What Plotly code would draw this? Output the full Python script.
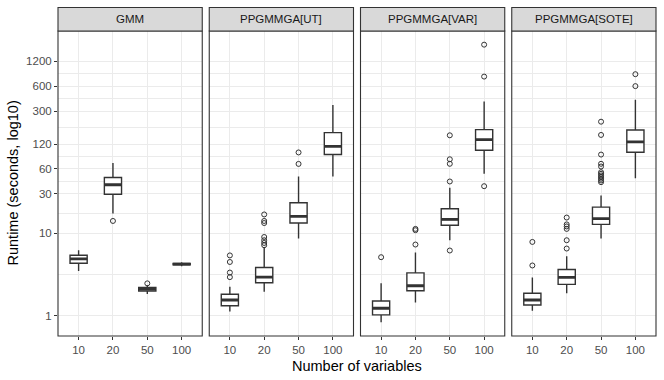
import plotly.graph_objects as go
from plotly.subplots import make_subplots

# Data (runtime in seconds)
methods = ["GMM", "PPGMMGA[UT]", "PPGMMGA[VAR]", "PPGMMGA[SOTE]"]
n_vars = ["10", "20", "50", "100"]

lower_whisker = [
    [3.5, 17.3, 1.84, 4.0],
    [1.13, 1.96, 8.63, 48.6],
    [0.84, 1.46, 8.24, 52.4],
    [1.16, 1.88, 8.63, 46.4],
]
q1 = [
    [4.35, 29.7, 2.0, 4.15],
    [1.33, 2.52, 13.3, 89.5],
    [1.03, 2.02, 12.5, 100.9],
    [1.36, 2.41, 12.8, 95.4],
]
median = [
    [4.9, 38.6, 2.1, 4.23],
    [1.56, 2.95, 16.0, 112.7],
    [1.24, 2.32, 14.7, 135.7],
    [1.56, 2.93, 15.0, 127.3],
]
q3 = [
    [5.43, 47.3, 2.22, 4.32],
    [1.83, 3.86, 23.4, 164.8],
    [1.52, 3.32, 19.8, 179.0],
    [1.88, 3.65, 20.7, 177.6],
]
upper_whisker = [
    [6.24, 71.0, 2.36, 4.47],
    [2.25, 6.84, 48.6, 355.0],
    [2.48, 5.85, 35.5, 393.0],
    [2.93, 5.28, 28.7, 411.0],
]

# outliers per method: {n_vars: [values]}
outliers = [
    {"20": [14.1], "50": [2.48]},
    {"10": [2.95, 3.35, 4.5, 5.4],
     "20": [7.17, 7.64, 8.24, 9.02, 13.3, 14.1, 16.9],
     "50": [69.0, 95.0]},
    {"10": [5.14], "20": [7.31, 10.9, 11.3],
     "50": [6.19, 42.3, 69.2, 78.5, 153.0],
     "100": [37.1, 785.0, 1909.0]},
    {"10": [4.08, 7.86], "20": [6.54, 8.24, 11.3, 12.1, 12.8, 15.5],
     "50": [41.5, 43.5, 45.6, 47.8, 50.0, 52.4, 54.8, 64.2, 69.2, 89.5, 154.6, 223.5],
     "100": [602.0, 839.0]},
]

y_ticks = [1, 10, 30, 60, 120, 300, 600, 1200]
y_minor = [3.162, 17.32, 42.43, 84.85, 189.7, 424.3, 848.5]

INK = "#333333"
GRID = "#EBEBEB"
FONT = "Liberation Sans"

fig = make_subplots(rows=1, cols=4, shared_yaxes=True,
                    horizontal_spacing=7 / 598)

for i, m in enumerate(methods):
    col = i + 1
    fig.add_trace(go.Box(
        x=n_vars, q1=q1[i], median=median[i], q3=q3[i],
        lowerfence=lower_whisker[i], upperfence=upper_whisker[i],
        width=0.5, whiskerwidth=0, fillcolor="white",
        line=dict(color=INK, width=1.4), boxpoints=False,
        showlegend=False, hoverinfo="skip"), row=1, col=col)
    # thicker median line like ggplot
    fig.add_trace(go.Box(
        x=n_vars, q1=median[i], median=median[i], q3=median[i],
        lowerfence=median[i], upperfence=median[i],
        width=0.5, whiskerwidth=0, fillcolor="rgba(0,0,0,0)",
        line=dict(color=INK, width=2.8), boxpoints=False,
        showlegend=False, hoverinfo="skip"), row=1, col=col)
    ox, oy = [], []
    for k, vals in outliers[i].items():
        ox += [k] * len(vals)
        oy += vals
    fig.add_trace(go.Scatter(
        x=ox, y=oy, mode="markers",
        marker=dict(symbol="circle-open", size=5, color=INK,
                    line=dict(width=1, color=INK)),
        showlegend=False, hoverinfo="skip"), row=1, col=col)

    xref = "x domain" if col == 1 else f"x{col} domain"
    # panel border
    fig.add_shape(type="rect", xref=xref, yref="paper", x0=0, x1=1, y0=0, y1=1,
                  line=dict(color=INK, width=1.1), layer="above")
    # strip
    fig.add_shape(type="rect", xref=xref, yref="paper", x0=0, x1=1,
                  y0=1, y1=1 + 23.5 / 305,
                  fillcolor="#D9D9D9", line=dict(color=INK, width=1.1))
    fig.add_annotation(xref=xref, yref="paper", x=0.5, y=1 + 11.75 / 305,
                       text=m, showarrow=False, xanchor="center", yanchor="middle",
                       font=dict(family=FONT, size=11.5, color="#1A1A1A"))

fig.update_xaxes(type="category", categoryorder="array", categoryarray=n_vars,
                 range=[-0.6, 3.6], showgrid=True, gridcolor=GRID, gridwidth=1.2,
                 zeroline=False, showline=False,
                 ticks="outside", ticklen=3, tickcolor=INK, tickwidth=1,
                 tickfont=dict(family=FONT, size=11.5, color="#4D4D4D"))
fig.update_yaxes(type="log", range=[-0.242, 3.446],
                 tickvals=y_ticks, ticktext=[str(v) for v in y_ticks],
                 showgrid=True, gridcolor=GRID, gridwidth=1.2,
                 minor=dict(tickvals=y_minor, showgrid=True, gridcolor=GRID,
                            gridwidth=0.6, ticklen=0),
                 zeroline=False, showline=False,
                 ticks="outside", ticklen=3, tickcolor=INK, tickwidth=1,
                 tickfont=dict(family=FONT, size=11.5, color="#4D4D4D"))
for c in range(2, 5):
    fig.update_yaxes(showticklabels=False, ticks="", row=1, col=c)

fig.add_annotation(xref="paper", yref="paper", x=0.5, y=-30 / 305,
                   text="Number of variables", showarrow=False,
                   xanchor="center", yanchor="middle",
                   font=dict(family=FONT, size=14.5, color="black"))
fig.add_annotation(xref="paper", yref="paper", x=-46 / 598, y=0.5,
                   text="Runtime (seconds, log10)", showarrow=False, textangle=-90,
                   xanchor="center", yanchor="middle",
                   font=dict(family=FONT, size=14.5, color="black"))

fig.update_layout(width=664, height=380,
                  margin=dict(l=58, r=8, t=31, b=44),
                  plot_bgcolor="white", paper_bgcolor="white",
                  boxmode="overlay")

# drop the page's default body margin so the figure sits at (0, 0)
fig.write_html("out.html", config={"displayModeBar": False},
               post_script="document.body.style.margin='0';")
